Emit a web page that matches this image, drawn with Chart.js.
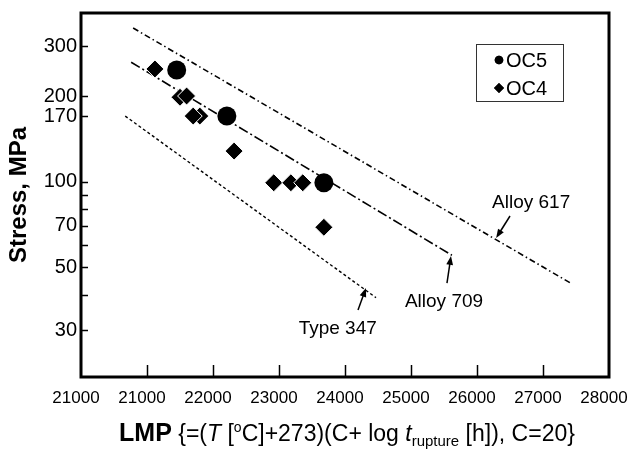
<!DOCTYPE html>
<html>
<head>
<meta charset="utf-8">
<script src="https://cdn.jsdelivr.net/npm/chart.js@4.4.0/dist/chart.umd.min.js"></script>
<style>
  html, body { margin: 0; padding: 0; background: #fff; }
  #wrap { width: 628px; height: 450px; }
</style>
</head>
<body>
<div id="wrap"><canvas id="lmpChart" width="628" height="450"></canvas></div>
<script>
// data (LMP vs stress)
const oc5Lmp = [21450, 22210, 23680];
const oc5Stress = [247, 170, 99];

const oc4Lmp = [21120, 21500, 21600, 21800, 21700, 22320, 22920, 23180, 23360, 23680];
const oc4Stress = [249, 198, 200, 170, 170, 128, 99, 99, 99, 69];

const alloy617Lmp = [20790, 27410];
const alloy617Stress = [347, 44];
const alloy709Lmp = [20760, 25620];
const alloy709Stress = [263, 55];
const type347Lmp = [20670, 24470];
const type347Stress = [170, 39];

// tick labels as printed (the first one really says 21000)
const xTickLabels = ['21000', '21000', '22000', '23000', '24000', '25000', '26000', '27000', '28000'];
const yTickValues = [30, 40, 50, 60, 70, 80, 90, 100, 170, 200, 300];
const yTickLabels = [30, 50, 70, 100, 170, 200, 300];

// curve names with arrows, in data units [LMP, MPa]
const notes = [
    { label: 'Alloy 617', at: [26820, 84], tail: [26500, 75.6], head: [26290, 63.2] },
    { label: 'Alloy 709', at: [25500, 37.6], tail: [25545, 43.9], head: [25606, 54.7] },
    { label: 'Type 347', at: [23890, 30.2], tail: [24197, 35.3], head: [24318, 42.2] }
];

const FONT = "'Liberation Sans', Arial, Helvetica, sans-serif";
Chart.defaults.font.family = FONT;
Chart.defaults.color = '#000';

const toPoints = (xs, ys) => xs.map((v, i) => ({ x: v, y: ys[i] }));

function arrow(ctx, x1, y1, x2, y2) {
    const ang = Math.atan2(y2 - y1, x2 - x1);
    const len = 9, half = 3.4;
    ctx.beginPath();
    ctx.moveTo(x1, y1);
    ctx.lineTo(x2 - Math.cos(ang) * len * 0.8, y2 - Math.sin(ang) * len * 0.8);
    ctx.stroke();
    ctx.beginPath();
    ctx.moveTo(x2, y2);
    ctx.lineTo(x2 - Math.cos(ang) * len + Math.sin(ang) * half, y2 - Math.sin(ang) * len - Math.cos(ang) * half);
    ctx.lineTo(x2 - Math.cos(ang) * len - Math.sin(ang) * half, y2 - Math.sin(ang) * len + Math.cos(ang) * half);
    ctx.closePath();
    ctx.fill();
}

const paperPlugin = {
    id: 'paper',
    afterDraw(chart) {
        const { ctx, chartArea: a, scales: { x, y } } = chart;
        ctx.save();
        ctx.strokeStyle = '#000';
        ctx.fillStyle = '#000';

        // frame
        ctx.lineWidth = 3;
        ctx.strokeRect(a.left, a.top, a.right - a.left, a.bottom - a.top);

        // inward tick marks
        ctx.lineWidth = 1.5;
        x.ticks.forEach(t => {
            if (t.value <= x.min || t.value >= x.max) return;
            const px = Math.round(x.getPixelForValue(t.value)) + 0.5;
            ctx.beginPath();
            ctx.moveTo(px, a.bottom);
            ctx.lineTo(px, a.bottom - 12);
            ctx.stroke();
        });
        y.ticks.forEach(t => {
            const py = Math.round(y.getPixelForValue(t.value)) + 0.5;
            ctx.beginPath();
            ctx.moveTo(a.left, py);
            ctx.lineTo(a.left + 7, py);
            ctx.stroke();
        });

        // curve labels
        ctx.font = '19px ' + FONT;
        ctx.textAlign = 'center';
        ctx.textBaseline = 'middle';
        ctx.lineWidth = 1.5;
        notes.forEach(n => {
            ctx.fillText(n.label, x.getPixelForValue(n.at[0]), y.getPixelForValue(n.at[1]));
            arrow(ctx,
                x.getPixelForValue(n.tail[0]), y.getPixelForValue(n.tail[1]),
                x.getPixelForValue(n.head[0]), y.getPixelForValue(n.head[1]));
        });

        // legend box, top right inside the plot
        const items = chart.data.datasets.filter(d => d.inLegend);
        const bw = 87, bh = 57;
        const bx = a.right - 46 - bw, by = a.top + 31;
        ctx.lineWidth = 1;
        ctx.strokeStyle = '#333';
        ctx.strokeRect(bx + 0.5, by + 0.5, bw, bh);
        ctx.textAlign = 'left';
        ctx.font = '20px ' + FONT;
        items.forEach((d, i) => {
            const cy = by + 16 + i * 28;
            Chart.helpers.drawPoint(ctx, { pointStyle: d.pointStyle, radius: d.pointStyle === 'circle' ? 4.3 : 5, borderWidth: 0 }, bx + 23, cy);
            ctx.fill();
            ctx.fillText(d.label, bx + 30, cy + 1);
        });

        // x axis title with italics, super- and subscript
        const parts = [
            { t: 'LMP', f: 'bold 25px ' + FONT, dy: 0 },
            { t: ' {=(', f: '23px ' + FONT, dy: 0 },
            { t: 'T', f: 'italic 23px ' + FONT, dy: 0 },
            { t: ' [', f: '23px ' + FONT, dy: 0 },
            { t: 'o', f: '14px ' + FONT, dy: -9 },
            { t: 'C]+273)(C+ log ', f: '23px ' + FONT, dy: 0 },
            { t: 't', f: 'italic 23px ' + FONT, dy: 0 },
            { t: 'rupture', f: '15px ' + FONT, dy: 5 },
            { t: ' [h]), C=20}', f: '23px ' + FONT, dy: 0 }
        ];
        let total = 0;
        parts.forEach(p => { ctx.font = p.f; p.w = ctx.measureText(p.t).width; total += p.w; });
        let tx = (a.left + a.right) / 2 - total / 2 + 2;
        const base = a.bottom + 64;
        ctx.textBaseline = 'alphabetic';
        parts.forEach(p => {
            ctx.font = p.f;
            ctx.fillText(p.t, tx, base + p.dy);
            tx += p.w;
        });

        ctx.restore();
    }
};

new Chart(document.getElementById('lmpChart'), {
    type: 'scatter',
    data: {
        datasets: [
            {
                label: 'OC5', inLegend: true,
                data: toPoints(oc5Lmp, oc5Stress),
                pointStyle: 'circle', pointRadius: 9.5,
                backgroundColor: '#000', borderColor: '#000', borderWidth: 0,
                order: 0
            },
            {
                label: 'OC4', inLegend: true,
                data: toPoints(oc4Lmp, oc4Stress),
                pointStyle: 'rectRot', pointRadius: 9,
                backgroundColor: '#000', borderColor: '#fff', borderWidth: 1,
                order: 1
            },
            {
                label: 'Alloy 617',
                data: toPoints(alloy617Lmp, alloy617Stress),
                showLine: true, pointRadius: 0,
                borderColor: '#000', borderWidth: 1.6, borderDash: [6, 3, 1.5, 3],
                order: 2
            },
            {
                label: 'Alloy 709',
                data: toPoints(alloy709Lmp, alloy709Stress),
                showLine: true, pointRadius: 0,
                borderColor: '#000', borderWidth: 1.6, borderDash: [10, 3, 2, 3],
                order: 2
            },
            {
                label: 'Type 347',
                data: toPoints(type347Lmp, type347Stress),
                showLine: true, pointRadius: 0,
                borderColor: '#000', borderWidth: 1.4, borderDash: [3, 2.5],
                order: 2
            }
        ]
    },
    options: {
        responsive: false,
        animation: false,
        layout: { padding: { top: 13, right: 19, left: 0, bottom: 0 } },
        plugins: {
            legend: { display: false },
            tooltip: { enabled: false }
        },
        scales: {
            x: {
                type: 'linear',
                min: 20000,
                max: 28000,
                grid: { display: false, drawTicks: false },
                border: { display: false },
                ticks: {
                    stepSize: 1000,
                    autoSkip: false,
                    maxRotation: 0,
                    padding: 11,
                    labelOffset: -5,
                    font: { size: 17 },
                    callback: (v, i) => xTickLabels[i]
                },
                afterFit: (scale) => {
                    scale.height = 73;
                    scale.paddingLeft = 0;
                    scale.paddingRight = 0;
                }
            },
            y: {
                type: 'logarithmic',
                min: 20.5,
                max: 392,
                grid: { display: false, drawTicks: false },
                border: { display: false },
                title: {
                    display: true,
                    text: 'Stress, MPa',
                    font: { size: 24, weight: 'bold' },
                    padding: { top: 5, bottom: 0 }
                },
                ticks: {
                    autoSkip: false,
                    padding: 4,
                    font: { size: 20 },
                    callback: (v) => yTickLabels.includes(v) ? String(v) : ''
                },
                afterBuildTicks: (scale) => {
                    scale.ticks = yTickValues.map(v => ({ value: v }));
                },
                afterFit: (scale) => {
                    scale.width = 81;
                    scale.paddingTop = 0;
                    scale.paddingBottom = 0;
                }
            }
        }
    },
    plugins: [paperPlugin]
});
</script>
</body>
</html>
